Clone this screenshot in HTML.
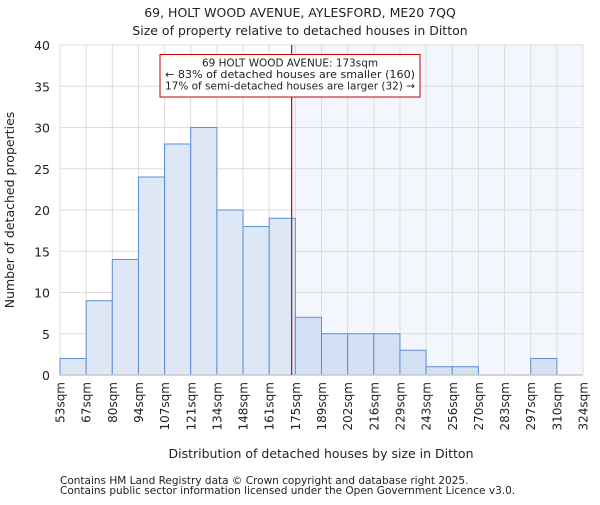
<!DOCTYPE html>
<html><head><meta charset="utf-8"><style>
html,body{margin:0;padding:0;background:#fff;}
svg text{font-family:"DejaVu Sans","Liberation Sans",sans-serif;fill:#222;}
</style></head><body>
<svg id="chart" width="600" height="500" viewBox="0 0 600 500" xmlns="http://www.w3.org/2000/svg">
<text x="300" y="17" font-size="12.5" text-anchor="middle">69, HOLT WOOD AVENUE, AYLESFORD, ME20 7QQ</text>
<text x="300" y="35" font-size="12.5" text-anchor="middle">Size of property relative to detached houses in Ditton</text>
<g id="plot"></g>
<text x="321" y="458" font-size="12.5" text-anchor="middle">Distribution of detached houses by size in Ditton</text>
<text transform="translate(14,210) rotate(-90)" font-size="12.5" text-anchor="middle">Number of detached properties</text>
<text x="60" y="484" font-size="10.5" fill="#444">Contains HM Land Registry data © Crown copyright and database right 2025.</text>
<text x="60" y="494" font-size="10.5" fill="#444">Contains public sector information licensed under the Open Government Licence v3.0.</text>
</svg>
<script>
const binLabels = ["53sqm","67sqm","80sqm","94sqm","107sqm","121sqm","134sqm","148sqm","161sqm","175sqm","189sqm","202sqm","216sqm","229sqm","243sqm","256sqm","270sqm","283sqm","297sqm","310sqm","324sqm"];
const binEdges = [53,67,80,94,107,121,134,148,161,175,189,202,216,229,243,256,270,283,297,310,324];
const counts = [2,9,14,24,28,30,20,18,19,7,5,5,5,3,1,1,0,0,2,0];
const yTicks = [0,5,10,15,20,25,30,35,40];
const markerValue = 173;

const NS = "http://www.w3.org/2000/svg";
const L = 60, R = 583, T = 45, B = 375;
const nb = counts.length;
const bw = (R - L) / nb;
function xIdx(i){ return L + i * bw; }
function xVal(v){
  for (let i = 0; i < binEdges.length - 1; i++) {
    if (v <= binEdges[i+1]) return xIdx(i) + (v - binEdges[i]) / (binEdges[i+1] - binEdges[i]) * bw;
  }
  return R;
}
function y(v){ return B - v / 40 * (B - T); }
const g = document.getElementById("plot");
function mk(tag, attrs){ const e = document.createElementNS(NS, tag); for (const k in attrs) e.setAttribute(k, attrs[k]); g.appendChild(e); return e; }

const mx = xVal(markerValue);
let shade = mk("rect", {x: mx, y: T, width: R - mx, height: B - T, fill: "#f4f6fd"});



yTicks.forEach(t => {
  const ln = mk("line", {x1: L, x2: R, y1: y(t), y2: y(t), stroke: "#dcdcdc", "stroke-width": 1});
  
  
  const tx = mk("text", {x: L - 10, y: y(t) + 5, "font-size": 12.5, "text-anchor": "end"});
  tx.textContent = t;
  
  
});
binLabels.forEach((lab, i) => {
  const ln = mk("line", {x1: xIdx(i), x2: xIdx(i), y1: T, y2: B, stroke: "#dcdcdc", "stroke-width": 1});
  
  
  const tx = mk("text", {transform: "translate(" + (xIdx(i) + 4.5) + "," + (B + 7) + ") rotate(-90)", "font-size": 12, "text-anchor": "end"});
  tx.textContent = lab;
  
  
});
counts.forEach((c, i) => {
  if (c <= 0) return;
  const right = xIdx(i) >= mx - 1;
  const r = mk("rect", {x: xIdx(i), y: y(c), width: bw, height: B - y(c), fill: right ? "#d4e0f3" : "#dde7f5", stroke: "#5b8fd6", "stroke-width": 1});
  
  
});
let ax = mk("line", {x1: L, x2: R, y1: B, y2: B, stroke: "#c8c8c8", "stroke-width": 1.5});


let ml = mk("line", {x1: mx, x2: mx, y1: T, y2: B, stroke: "#dd0000", "stroke-width": 1.2});



let box = mk("rect", {x: 160, y: 54.5, width: 260, height: 42.5, fill: "#fff", stroke: "#cc0000", "stroke-width": 1});


["69 HOLT WOOD AVENUE: 173sqm","← 83% of detached houses are smaller (160)","17% of semi-detached houses are larger (32) →"].forEach((s, i) => {
  const t = mk("text", {x: 290, y: 66.5 + i * 11.5, "font-size": 10.5, "text-anchor": "middle", textLength: i === 0 ? 176 : 250, lengthAdjust: "spacingAndGlyphs"});
  t.textContent = s;
  
  
});
</script>
</body></html>
